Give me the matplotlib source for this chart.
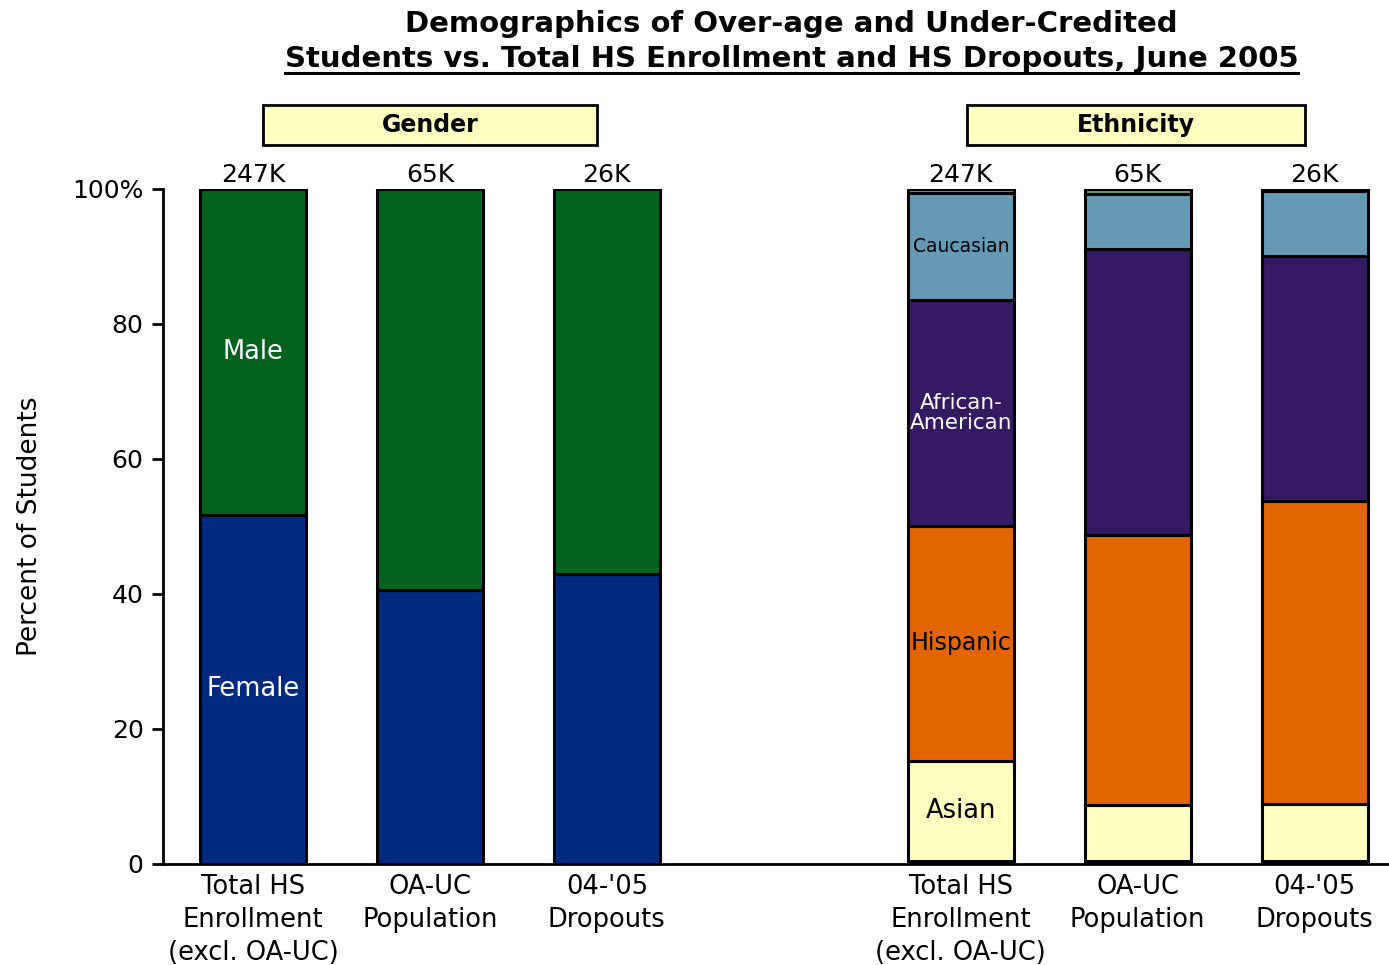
import matplotlib
matplotlib.use("Agg")
import matplotlib.pyplot as plt
from matplotlib.patches import Rectangle
from matplotlib.lines import Line2D
import numpy as np

plt.rcParams['font.family'] = ['DejaVu Sans']

# ---- data ----
group_labels = ["Total HS\nEnrollment\n(excl. OA-UC)", "OA-UC\nPopulation", "04-'05\nDropouts"]
counts = ["247K", "65K", "26K"]

gender_female = [51.7, 40.6, 42.9]
gender_male = [48.3, 59.4, 57.1]

eth_native = [0.5, 0.5, 0.5]
eth_asian = [14.8, 8.2, 8.4]
eth_hispanic = [34.8, 40.0, 44.9]
eth_afam = [33.5, 42.4, 36.3]
eth_caucasian = [15.8, 8.2, 9.6]
eth_other = [0.6, 0.7, 0.3]

# ---- figure ----
fig = plt.figure(figsize=(13.89, 9.65), dpi=100)
ax = fig.add_axes([0.1174, 0.1047, 0.8826, 0.6995])

gx = np.array([0, 1, 2])
ex = np.array([4, 5, 6])
w = 0.6
ekw = dict(edgecolor='black', linewidth=2.2, width=w, zorder=3)

ax.bar(gx, gender_female, color='#002a7f', **ekw)
ax.bar(gx, gender_male, bottom=gender_female, color='#03621d', **ekw)

eth_series = [
    (eth_native, '#000000'),
    (eth_asian, '#ffffc0'),
    (eth_hispanic, '#e36500'),
    (eth_afam, '#341a62'),
    (eth_caucasian, '#6699b4'),
    (eth_other, '#7f8f78'),
]
bottom = np.zeros(3)
eth_bottoms = []
for vals, col in eth_series:
    ax.bar(ex, vals, bottom=bottom, color=col, **ekw)
    eth_bottoms.append(bottom.copy())
    bottom = bottom + np.array(vals)

# in-bar labels (first bar of each group)
ax.text(gx[0], gender_female[0] + gender_male[0] / 2, "Male", color='white',
        ha='center', va='center', fontsize=18.5, zorder=4)
ax.text(gx[0], gender_female[0] / 2, "Female", color='white',
        ha='center', va='center', fontsize=18.5, zorder=4)
eth_names = [None, ("Asian", 'black', 18.5), ("Hispanic", 'black', 17),
             ("African-\nAmerican", 'white', 15.5), ("Caucasian", 'black', 13.5), None]
for i, info in enumerate(eth_names):
    if info is None:
        continue
    name, col, fs = info
    vals = eth_series[i][0]
    ax.text(ex[0], eth_bottoms[i][0] + vals[0] / 2, name, color=col,
            ha='center', va='center', fontsize=fs, zorder=4, linespacing=1.0)

# count labels
for xs in (gx, ex):
    for x, c in zip(xs, counts):
        ax.text(x, 101.0, c, ha='center', va='baseline', fontsize=18)

# axes styling
ax.set_xlim(-0.508, 6.42)
ax.set_ylim(0, 100)
ax.set_yticks([0, 20, 40, 60, 80, 100])
ax.set_yticklabels(["0", "20", "40", "60", "80", "100%"], fontsize=18)
ax.set_xticks(list(gx) + list(ex))
ax.set_xticklabels(group_labels * 2, fontsize=18.5, linespacing=1.36)
ax.tick_params(axis='x', length=0, pad=7)
ax.tick_params(axis='y', length=8, width=2, direction='out', pad=6)
for s in ('top', 'right'):
    ax.spines[s].set_visible(False)
ax.spines['left'].set_linewidth(2)
ax.spines['bottom'].set_linewidth(2)
ax.set_ylabel("Percent of Students", fontsize=19)
ax.yaxis.set_label_coords(-0.098, 0.5)

# section header boxes
for (x0, x1, label) in [(263, 597, "Gender"), (967, 1305, "Ethnicity")]:
    fx0 = x0 / 1389
    fw = (x1 - x0) / 1389
    fy0 = (965 - 145) / 965
    fh = 40 / 965
    fig.patches.append(Rectangle((fx0, fy0), fw, fh, transform=fig.transFigure,
                                 facecolor='#ffffc0', edgecolor='black', linewidth=2))
    fig.text(fx0 + fw / 2, fy0 + fh / 2, label, ha='center', va='center',
             fontsize=17, fontweight='bold')

# title
tx = 791.5 / 1389
fig.text(tx, 1 - 24 / 965, "Demographics of Over-age and Under-Credited",
         ha='center', va='center', fontsize=21, fontweight='bold')
t2 = fig.text(tx, 1 - 59 / 965, "Students vs. Total HS Enrollment and HS Dropouts, June 2005",
              ha='center', va='center', fontsize=21, fontweight='bold')
fig.canvas.draw()
bb = t2.get_window_extent(renderer=fig.canvas.get_renderer())
bbf = bb.transformed(fig.transFigure.inverted())
fig.add_artist(Line2D([bbf.x0, bbf.x1], [1 - 73 / 965] * 2, transform=fig.transFigure,
                      color='black', linewidth=2.2))

fig.savefig("out.png", dpi=100)
